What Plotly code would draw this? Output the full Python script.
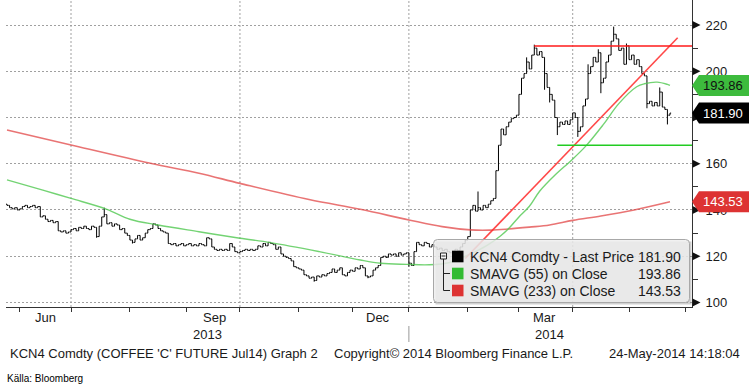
import plotly.graph_objects as go
import pandas as pd

# ---------------- data ----------------
start_day = "2013-05-27"          # first trading day shown (weekdays only)
first_open = 142.5
close = [
    142, 141, 140.5, 141, 140, 140.5, 141.5, 142, 141, 141.5,
    142, 141, 141.5, 137, 137.5, 136, 135, 135.5, 134.5, 135,
    131, 130.5, 131, 130, 130.5, 131.5, 132, 131, 132.5, 132,
    133, 132, 131.5, 133, 132.5, 128.5, 133, 137, 138, 134,
    134.5, 133, 134, 133.5, 131.5, 132, 130, 129, 127, 126,
    127.5, 129, 127, 128, 130, 131.5, 132, 134, 133.5, 132,
    131, 130.5, 130, 125.5, 125, 125.5, 124.5, 125, 125.5, 124.5,
    125, 125.5, 124.5, 125, 124.5, 125.5, 125, 124.5, 128, 127.5,
    124, 123, 122.5, 123, 122.5, 123, 122.5, 125.5, 124, 122,
    121.5, 122, 122.5, 123, 122.5, 123, 122.5, 123, 124.5, 124,
    125.5, 124.5, 126, 125.5, 125, 123, 124, 121, 120, 119.5,
    119, 118, 115.5, 115, 114.5, 114, 112, 111.5, 110.5, 111,
    109.5, 111.5, 111, 112, 111.5, 112.5, 113, 114.5, 113, 114,
    115, 112, 111.5, 113, 114, 113.5, 115, 114.5, 116, 115,
    111.5, 111, 111.5, 114, 115, 116, 119.5, 120, 119.5, 121,
    120.5, 121, 120, 121.5, 120.5, 121, 121.5, 117, 116, 122,
    126, 125, 124.5, 126, 125.5, 124, 125, 124, 123, 123.5,
    122.5, 123, 122, 121.5, 122, 123, 122.5, 124, 125.5, 127,
    128.5, 140, 142, 139.5, 141, 140, 142, 141, 142.5, 144,
    145, 157, 168, 175, 172.5, 176, 178, 179.5, 180, 181,
    190, 197, 199, 204, 201, 207, 210, 207, 208.5, 206,
    199, 193, 190, 187.5, 180, 176, 178, 177, 178.5, 177,
    179, 182, 180, 174, 176, 185, 188, 199, 202, 206,
    204, 208, 195, 197, 204, 207, 213, 216, 214, 209,
    210, 203, 211, 205, 207, 203, 205, 202, 199, 198,
    186, 187, 185, 186.5, 185, 191, 184.5, 183.5, 181, 181.9,
]
spike_high = {38: 141, 184: 148, 203: 206, 206: 211.5, 227: 203, 231: 209.5,
              237: 219.3, 242: 212, 255: 193}
spike_low = {35: 128, 49: 125.5, 120: 109, 141: 110.5, 157: 115.5, 210: 192,
             212: 186.5, 215: 172.4, 223: 171.6, 232: 190.5, 250: 184, 258: 177}

# simple moving averages read at sampled trading days (index into trading days)
sma55_idx = [0, 14, 25, 39, 48, 59, 75, 91, 103, 122, 138, 146, 156, 165, 173,
             178, 183, 188, 193, 196, 200, 204, 208, 214, 220, 226, 233, 239,
             246, 249, 254, 258, 259]
sma55 = [153, 148.6, 145, 140.3, 136, 133.5, 130.6, 127.8, 125.9, 122, 118.4,
         117, 116.5, 116.3, 117.3, 119.5, 122, 125, 129, 132, 137, 141.5, 148,
         155, 161, 167.5, 177, 186, 193.3, 194.6, 195.3, 194.3, 193.86]
sma233_idx = [0, 25, 56, 75, 91, 118, 138, 157, 170, 181, 189, 196, 204, 212,
              221, 232, 245, 259]
sma233 = [174.6, 168.1, 160.2, 155.9, 151.5, 144.5, 140.3, 135.7, 132.8, 131.4,
          131.3, 131.8, 132.6, 133.5, 135.5, 137.4, 140.0, 143.53]

last_price, last_sma55, last_sma233 = 181.90, 193.86, 143.53

# drawn trend lines
trend_start = ("2014-01-31", 119.0)
trend_end = ("2014-05-28", 214.5)
resistance_start, resistance = "2014-03-11", 210.9
support_start, support = "2014-03-24", 168.0

y_ticks = [100, 120, 140, 160, 180, 200, 220]
y_minor = [110, 130, 150, 170, 190, 210]
month_starts = ["2013-06-03", "2013-07-01", "2013-08-01", "2013-09-02",
                "2013-10-01", "2013-11-01", "2013-12-02", "2014-01-01",
                "2014-02-03", "2014-03-03", "2014-04-01", "2014-05-01",
                "2014-06-02"]
quarter_grid = ["2013-07-01", "2013-10-01", "2014-01-01", "2014-04-01"]
month_labels = [("Jun", "2013-06-17"), ("Sep", "2013-09-17"),
                ("Dec", "2013-12-16"), ("Mar", "2014-03-17")]
year_labels = [("2013", "2013-09-12 12:00"), ("2014", "2014-03-19")]
year_break = "2014-01-01"

x_range = ["2013-05-24 14:30", "2014-06-04 14:30"]
y_range = [98.05, 230.81]

# ---------------- build ----------------
W, H = 749, 388
L, R, T, B = 6, 692, 0, 307
PW, PH = R - L, B - T
FONT = "Liberation Sans"
TXT = "#1a1a1a"


def xp(px):
    return (px - L) / PW


def yp(py):
    return (B - py) / PH


def vy(v):  # value -> pixel y
    return B - (v - y_range[0]) / (y_range[1] - y_range[0]) * PH


dates = pd.bdate_range(start_day, periods=len(close))
opens = [first_open] + close[:-1]
highs = [max(o, c, spike_high.get(i, c)) for i, (o, c) in enumerate(zip(opens, close))]
lows = [min(o, c, spike_low.get(i, c)) for i, (o, c) in enumerate(zip(opens, close))]

fig = go.Figure()
fig.add_trace(go.Scatter(x=dates[sma233_idx], y=sma233, mode="lines", line_shape="spline",
                         line=dict(color="rgba(225,70,70,0.75)", width=1.6),
                         hoverinfo="skip"))
fig.add_trace(go.Scatter(x=dates[sma55_idx], y=sma55, mode="lines", line_shape="spline",
                         line=dict(color="rgba(80,200,80,0.8)", width=1.4),
                         hoverinfo="skip"))
fig.add_trace(go.Ohlc(x=dates, open=opens, high=highs, low=lows, close=close,
                      increasing_line_color="#000", decreasing_line_color="#000",
                      line_width=1, tickwidth=0.45))
# trend lines
fig.add_trace(go.Scatter(x=[trend_start[0], trend_end[0]], y=[trend_start[1], trend_end[1]],
                         mode="lines", line=dict(color="rgba(255,40,40,0.85)", width=1.6),
                         hoverinfo="skip"))
fig.add_trace(go.Scatter(x=[resistance_start, x_range[1]], y=[resistance, resistance],
                         mode="lines", line=dict(color="#ff1a1a", width=1.4), hoverinfo="skip"))
fig.add_trace(go.Scatter(x=[support_start, x_range[1]], y=[support, support],
                         mode="lines", line=dict(color="#22cc22", width=1.4), hoverinfo="skip"))

shapes = []
for d in quarter_grid:
    shapes.append(dict(type="line", xref="x", yref="paper", x0=d, x1=d, y0=0, y1=1,
                       line=dict(color="#a0a0a0", width=1, dash="2px,2px"), layer="below"))
shapes.append(dict(type="line", xref="x", yref="paper", x0=year_break, x1=year_break,
                   y0=yp(326), y1=yp(342), line=dict(color="#999", width=1)))

# triangles at labelled y ticks
for v in y_ticks:
    yc = vy(v)
    shapes.append(dict(type="path", xref="paper", yref="paper", layer="above",
                       path=f"M {xp(692.5)},{yp(yc-4)} L {xp(700.5)},{yp(yc)} L {xp(692.5)},{yp(yc+4)} Z",
                       fillcolor="#111", line=dict(width=0)))

# value tags
annotations = []
for v, fill, fc in [(last_sma233, "#dd3333", "#ffffff"), (last_sma55, "#3dbb3d", "#111111"),
                    (last_price, "#000000", "#ffffff")]:
    yc = vy(v)
    shapes.append(dict(type="path", xref="paper", yref="paper", layer="above",
                       path=(f"M {xp(692)},{yp(yc)} L {xp(699)},{yp(yc-10.5)} L {xp(749)},{yp(yc-10.5)} "
                             f"L {xp(749)},{yp(yc+10.5)} L {xp(699)},{yp(yc+10.5)} Z"),
                       fillcolor=fill, line=dict(width=0)))
    annotations.append(dict(xref="paper", yref="paper", x=xp(701), y=yp(yc), xanchor="left",
                            yanchor="middle", text=f"{v:.2f}", showarrow=False,
                            font=dict(family=FONT, size=13, color=fc)))

# legend box
bx0, bx1, by0, by1, r = 433.5, 689.5, 239.5, 302.5, 4
shapes.append(dict(type="rect", xref="paper", yref="paper", layer="above",
                   x0=xp(bx0 + 2), x1=xp(bx1 + 2), y0=yp(by1 + 2), y1=yp(by0 + 2),
                   fillcolor="rgba(120,120,120,0.35)", line=dict(width=0)))
path = (f"M {xp(bx0+r)},{yp(by0)} L {xp(bx1-r)},{yp(by0)} Q {xp(bx1)},{yp(by0)} {xp(bx1)},{yp(by0+r)} "
        f"L {xp(bx1)},{yp(by1-r)} Q {xp(bx1)},{yp(by1)} {xp(bx1-r)},{yp(by1)} "
        f"L {xp(bx0+r)},{yp(by1)} Q {xp(bx0)},{yp(by1)} {xp(bx0)},{yp(by1-r)} "
        f"L {xp(bx0)},{yp(by0+r)} Q {xp(bx0)},{yp(by0)} {xp(bx0+r)},{yp(by0)} Z")
shapes.append(dict(type="path", xref="paper", yref="paper", layer="above", path=path,
                   fillcolor="rgba(238,238,238,0.82)", line=dict(color="#a8a8a8", width=1)))
# tree icon
shapes.append(dict(type="line", xref="paper", yref="paper", layer="above",
                   x0=xp(443.5), x1=xp(443.5), y0=yp(259), y1=yp(290.5),
                   line=dict(color="#222", width=1)))
for yy in (273.5, 290.5):
    shapes.append(dict(type="line", xref="paper", yref="paper", layer="above",
                       x0=xp(443.5), x1=xp(450), y0=yp(yy), y1=yp(yy),
                       line=dict(color="#222", width=1)))
shapes.append(dict(type="rect", xref="paper", yref="paper", layer="above",
                   x0=xp(440.5), x1=xp(446.5), y0=yp(259), y1=yp(253),
                   fillcolor="#f4f4f4", line=dict(color="#222", width=1)))
shapes.append(dict(type="line", xref="paper", yref="paper", layer="above",
                   x0=xp(441.5), x1=xp(445.5), y0=yp(256), y1=yp(256),
                   line=dict(color="#222", width=1)))
legend_rows = [("KCN4 Comdty - Last Price", last_price, "#000000", 256.5),
               ("SMAVG (55) on Close", last_sma55, "#33bb33", 273.5),
               ("SMAVG (233) on Close", last_sma233, "#dd3333", 290.5)]
for name, v, col, yc in legend_rows:
    shapes.append(dict(type="rect", xref="paper", yref="paper", layer="above",
                       x0=xp(452), x1=xp(463.5), y0=yp(yc + 5.8), y1=yp(yc - 5.8),
                       fillcolor=col, line=dict(width=0)))
    annotations.append(dict(xref="paper", yref="paper", x=xp(468), y=yp(yc), xanchor="left",
                            yanchor="middle", text=name, showarrow=False,
                            font=dict(family=FONT, size=14, color=TXT)))
    annotations.append(dict(xref="paper", yref="paper", x=xp(683), y=yp(yc), xanchor="right",
                            yanchor="middle", text=f"{v:.2f}", showarrow=False,
                            font=dict(family=FONT, size=14, color=TXT)))

# axis labels
for t, d in month_labels:
    annotations.append(dict(xref="x", yref="paper", x=d, y=yp(317), text=t, showarrow=False,
                            xanchor="center", yanchor="middle",
                            font=dict(family=FONT, size=13, color=TXT)))
for t, d in year_labels:
    annotations.append(dict(xref="x", yref="paper", x=d, y=yp(334), text=t, showarrow=False,
                            xanchor="center", yanchor="middle",
                            font=dict(family=FONT, size=13, color=TXT)))
# footer
annotations += [
    dict(xref="paper", yref="paper", x=xp(8), y=yp(353), xanchor="left", yanchor="middle",
         text="KCN4 Comdty (COFFEE 'C' FUTURE Jul14) Graph 2", showarrow=False,
         font=dict(family=FONT, size=13, color=TXT)),
    dict(xref="paper", yref="paper", x=xp(332), y=yp(353), xanchor="left", yanchor="middle",
         text="Copyright\u00a9 2014 Bloomberg Finance L.P.", showarrow=False,
         font=dict(family=FONT, size=13, color=TXT)),
    dict(xref="paper", yref="paper", x=xp(742), y=yp(353), xanchor="right", yanchor="middle",
         text="24-May-2014 14:18:04", showarrow=False,
         font=dict(family=FONT, size=13, color=TXT)),
    dict(xref="paper", yref="paper", x=xp(5), y=yp(378), xanchor="left", yanchor="middle",
         text="K\u00e4lla: Bloomberg", showarrow=False,
         font=dict(family=FONT, size=10, color="#000")),
]

fig.update_layout(
    width=W, height=H, margin=dict(l=L, r=W - R, t=T, b=H - B),
    paper_bgcolor="white", plot_bgcolor="white", showlegend=False,
    font=dict(family=FONT, size=13, color=TXT),
    shapes=shapes, annotations=annotations,
    xaxis=dict(type="date", range=x_range, rangebreaks=[dict(bounds=["sat", "mon"])],
               rangeslider=dict(visible=False), showgrid=False, zeroline=False,
               tickvals=month_starts, showticklabels=False, ticks="outside", ticklen=4,
               tickcolor="#333", showline=True, linecolor="#333", linewidth=1),
    yaxis=dict(side="right", range=y_range, tickvals=y_ticks, ticks="",
               showgrid=True, gridcolor="#a0a0a0", griddash="2px,2px", gridwidth=1,
               zeroline=False, showline=True, linecolor="#333", linewidth=1,
               ticklabelstandoff=10, tickfont=dict(family=FONT, size=13, color=TXT),
               minor=dict(tickvals=y_minor, ticks="outside", ticklen=5, tickcolor="#333",
                          showgrid=False)),
)

fig.write_html("out.html", config={"displayModeBar": False},
               post_script="document.body.style.margin='0';document.body.style.padding='0';")
